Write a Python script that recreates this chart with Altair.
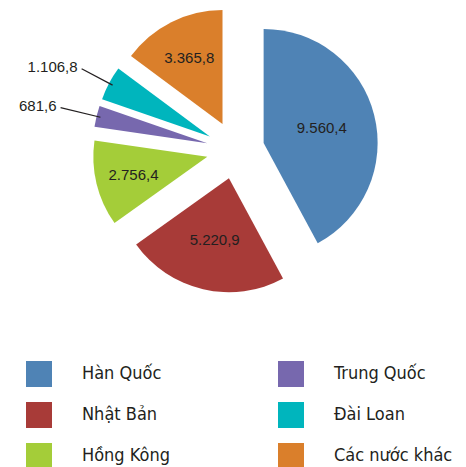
import altair as alt
import pandas as pd

# ---------------- data ----------------
categories = ["Hàn Quốc", "Nhật Bản", "Hồng Kông", "Trung Quốc", "Đài Loan", "Các nước khác"]
values = [9560.4, 5220.9, 2756.4, 681.6, 1106.8, 3365.8]

# ---------------- styles ----------------
COLORS = ["#4F83B5", "#A83B38", "#A4CD39", "#7768AE", "#00B5BD", "#DA7F2B"]
CX, CY, R = 235.5, 150.0, 114
EXPLODE = 29
LABEL_R = {"Hàn Quốc": 60, "Nhật Bản": 63, "Hồng Kông": 76, "Các nước khác": 74}
LEADER_R = {"Trung Quốc": 151, "Đài Loan": 145}
TEXT_COLOR = "#231F20"
LEGEND_FONT = "Liberation Sans Narrow, Arial Narrow, DejaVu Sans Condensed, sans-serif"


def fmt(v):
    s = f"{v:,.1f}"
    return s.replace(",", "#").replace(".", ",").replace("#", ".")


df = pd.DataFrame({
    "category": categories,
    "value": values,
    "order": list(range(len(categories))),
    "label": [fmt(v) for v in values],
    "lr": [LABEL_R.get(c, -1) for c in categories],
    "le": [LEADER_R.get(c, -1) for c in categories],
})

base = (
    alt.Chart(df)
    .transform_joinaggregate(total="sum(value)")
    .transform_window(cum="sum(value)", sort=[alt.SortField("order")], frame=[None, 0])
    .transform_calculate(
        t1="datum.cum / datum.total * 2 * PI",
        t0="(datum.cum - datum.value) / datum.total * 2 * PI",
    )
    .transform_calculate(mid="(datum.t0 + datum.t1) / 2")
    .transform_calculate(
        cx=f"{CX} + {EXPLODE} * sin(datum.mid)",
        cy=f"{CY} - {EXPLODE} * cos(datum.mid)",
    )
    .transform_calculate(
        tx="datum.cx + datum.lr * sin(datum.mid)",
        ty="datum.cy - datum.lr * cos(datum.mid)",
        lx1="datum.cx + 110 * sin(datum.mid)",
        ly1="datum.cy - 110 * cos(datum.mid)",
        lx2="datum.cx + datum.le * sin(datum.mid)",
        ly2="datum.cy - datum.le * cos(datum.mid)",
    )
)

arcs = base.mark_arc(outerRadius=R).encode(
    x=alt.X("cx:Q", scale=None, axis=None),
    y=alt.Y("cy:Q", scale=None, axis=None),
    theta=alt.Theta("t0:Q", scale=None),
    theta2=alt.Theta2("t1:Q"),
    color=alt.Color(
        "category:N",
        scale=alt.Scale(domain=categories, range=COLORS),
        legend=alt.Legend(
            title=None,
            orient="none",
            legendX=26,
            legendY=361,
            columns=2,
            padding=0,
            symbolType="square",
            symbolSize=676,
            symbolStrokeWidth=0,
            symbolOpacity=1,
            labelFont=LEGEND_FONT,
            labelFontSize=18,
            labelColor=TEXT_COLOR,
            labelOffset=30,
            labelLimit=400,
            rowPadding=15,
            columnPadding=108,
        ),
    ),
)

labels_in = base.transform_filter("datum.lr > 0").mark_text(
    font="Liberation Sans", fontSize=15, color=TEXT_COLOR, align="center", baseline="middle"
).encode(
    x=alt.X("tx:Q", scale=None, axis=None),
    y=alt.Y("ty:Q", scale=None, axis=None),
    text="label:N",
)

leaders = base.transform_filter("datum.le > 0").mark_rule(color=TEXT_COLOR, strokeWidth=1.2).encode(
    x=alt.X("lx1:Q", scale=None, axis=None),
    y=alt.Y("ly1:Q", scale=None, axis=None),
    x2="lx2:Q",
    y2="ly2:Q",
)

labels_out = base.transform_filter("datum.le > 0").transform_calculate(
    ox="datum.lx2 - 4", oy="datum.ly2 - 1.5"
).mark_text(
    font="Liberation Sans", fontSize=15, color=TEXT_COLOR, align="right", baseline="middle"
).encode(
    x=alt.X("ox:Q", scale=None, axis=None),
    y=alt.Y("oy:Q", scale=None, axis=None),
    text="label:N",
)

chart = (
    alt.layer(arcs, labels_in, leaders, labels_out)
    .properties(width=466, height=467, padding=0, autosize=alt.AutoSizeParams(type="none"))
    .configure_view(strokeWidth=0)
)

chart.save("out.html", embed_options={"renderer": "svg", "actions": False})
